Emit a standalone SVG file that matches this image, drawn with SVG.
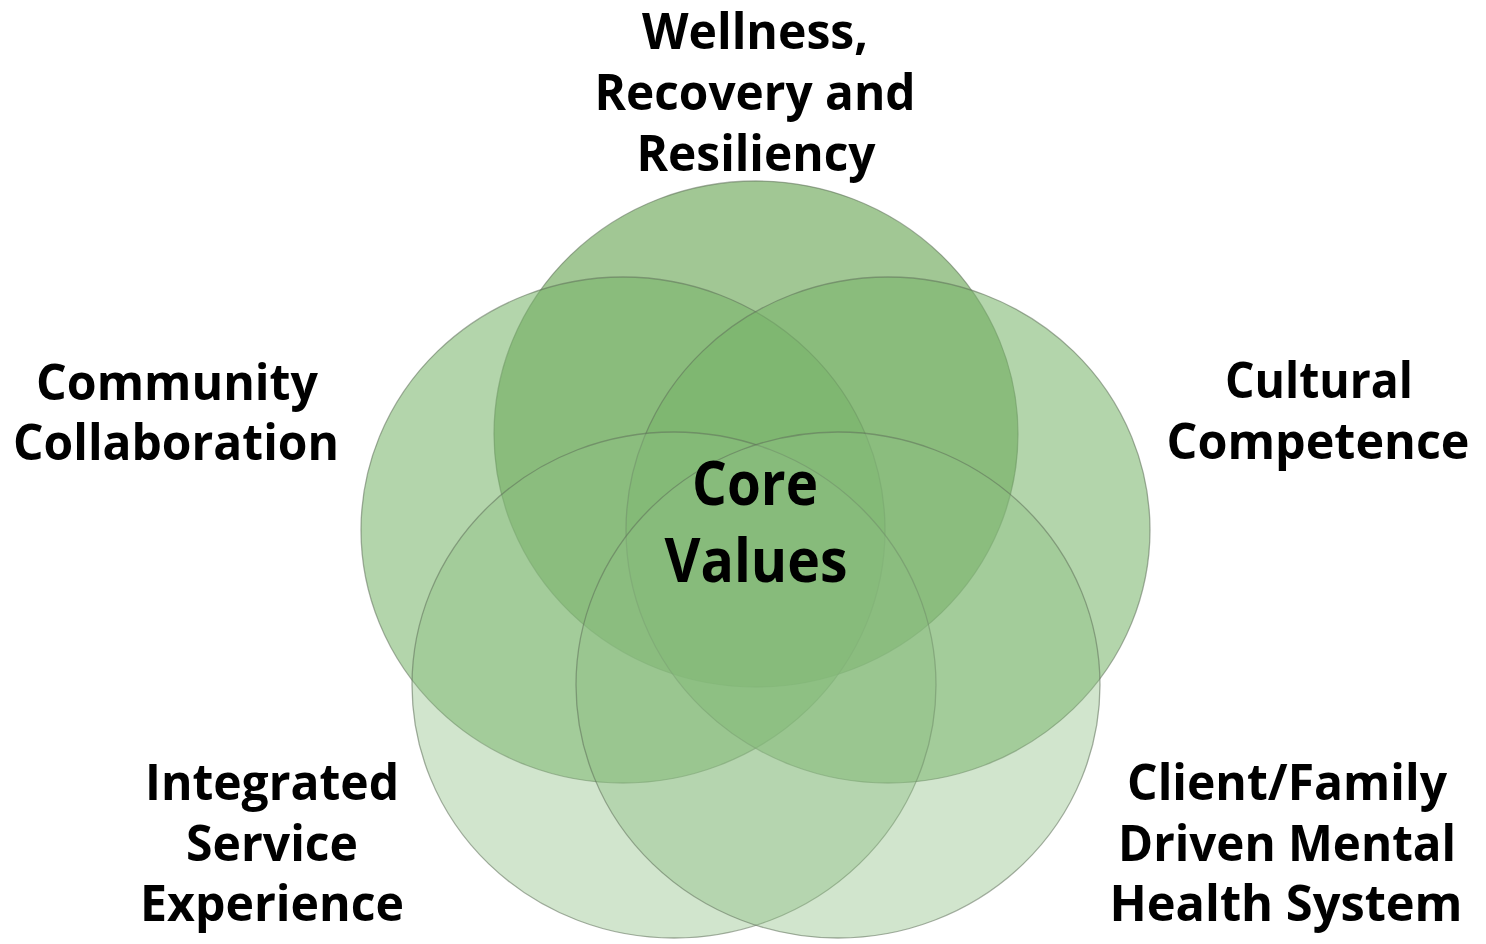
<svg xmlns="http://www.w3.org/2000/svg" width="1486" height="944" viewBox="0 0 1486 944">
<style>
.c{stroke:#5f6f5a;stroke-opacity:0.55;stroke-width:1.3}
.lb{font-family:"Open Sans","Noto Sans","Liberation Sans",sans-serif;font-weight:bold;font-size:50px;fill:#000;text-anchor:middle}
.core{font-size:60px}
</style>
<rect width="1486" height="944" fill="#ffffff"/>
<g id="circles">
<g id="circle-wellness"><ellipse class="c" cx="756" cy="434" rx="262" ry="253" fill="#82b470" fill-opacity="0.75"/></g>
<g id="circle-community"><ellipse class="c" cx="623" cy="530" rx="262" ry="253" fill="#78b469" fill-opacity="0.56"/></g>
<g id="circle-cultural"><ellipse class="c" cx="888" cy="530" rx="262" ry="253" fill="#78b469" fill-opacity="0.56"/></g>
<g id="circle-integrated"><ellipse class="c" cx="674" cy="685" rx="262" ry="253" fill="#8cbe82" fill-opacity="0.4"/></g>
<g id="circle-client"><ellipse class="c" cx="838" cy="685" rx="262" ry="253" fill="#8cbe82" fill-opacity="0.4"/></g>
</g>
<g id="connectors"></g>
<g id="label-wellness">
<text class="lb" x="755" y="49" textLength="226" lengthAdjust="spacingAndGlyphs">Wellness,</text>
<text class="lb" x="755" y="110" textLength="321" lengthAdjust="spacingAndGlyphs">Recovery and</text>
<text class="lb" x="756" y="171" textLength="239" lengthAdjust="spacingAndGlyphs">Resiliency</text>
</g>
<g id="label-community">
<text class="lb" x="177" y="400" textLength="282" lengthAdjust="spacingAndGlyphs">Community</text>
<text class="lb" x="176" y="460" textLength="326" lengthAdjust="spacingAndGlyphs">Collaboration</text>
</g>
<g id="label-cultural">
<text class="lb" x="1319" y="398" textLength="188" lengthAdjust="spacingAndGlyphs">Cultural</text>
<text class="lb" x="1318" y="459" textLength="303" lengthAdjust="spacingAndGlyphs">Competence</text>
</g>
<g id="label-integrated">
<text class="lb" x="272" y="800" textLength="254" lengthAdjust="spacingAndGlyphs">Integrated</text>
<text class="lb" x="272" y="861" textLength="172" lengthAdjust="spacingAndGlyphs">Service</text>
<text class="lb" x="272" y="921" textLength="264" lengthAdjust="spacingAndGlyphs">Experience</text>
</g>
<g id="label-client">
<text class="lb" x="1287" y="800" textLength="320" lengthAdjust="spacingAndGlyphs">Client/Family</text>
<text class="lb" x="1287" y="861" textLength="338" lengthAdjust="spacingAndGlyphs">Driven Mental</text>
<text class="lb" x="1286" y="921" textLength="353" lengthAdjust="spacingAndGlyphs">Health System</text>
</g>
<g id="core">
<text class="lb core" x="755" y="505" textLength="126" lengthAdjust="spacingAndGlyphs">Core</text>
<text class="lb core" x="756" y="582" textLength="183" lengthAdjust="spacingAndGlyphs">Values</text>
</g>
</svg>
